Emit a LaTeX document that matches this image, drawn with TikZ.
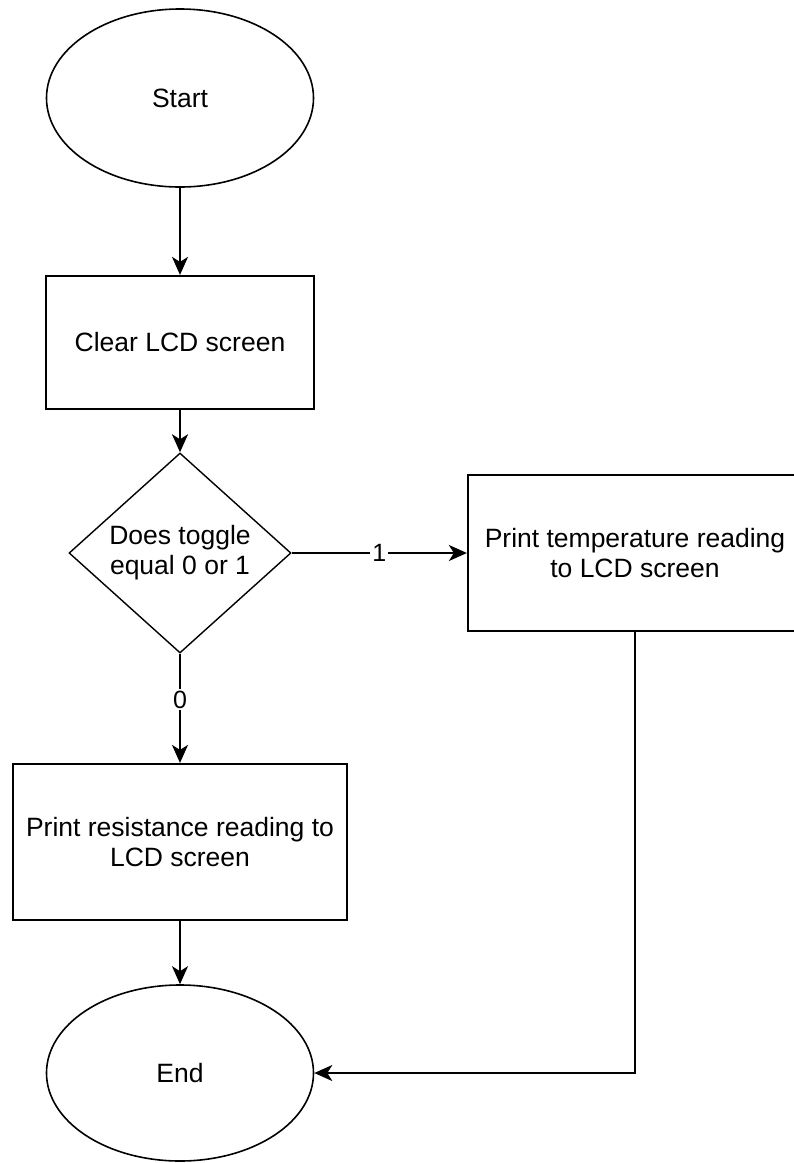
\documentclass[tikz,border=0pt]{standalone}
\usepackage{fontspec}
\setmainfont{Liberation Sans}
\usetikzlibrary{shapes.geometric,arrows.meta}
\begin{document}
\begin{tikzpicture}[x=1pt,y=-1pt,
  every node/.style={font=\fontsize{26.5}{30}\selectfont},
  term/.style={draw, ellipse, line width=1.6pt, minimum width=267pt, minimum height=178pt, inner sep=0pt},
  proc/.style={draw, rectangle, line width=2.2pt, inner sep=0pt, align=center},
  dec/.style={draw, diamond, line width=1.4pt, aspect=1.11, minimum width=222pt, minimum height=200pt, inner sep=0pt, align=center},
  conn/.style={line width=2.2pt, -{Stealth[length=18pt,width=16pt,inset=5pt]}},
  lbl/.style={fill=white, inner sep=2pt, font=\fontsize{25}{29}\selectfont}
]
\useasboundingbox (0,0) rectangle (794,1163);
\clip (0,0) rectangle (794,1163);
\node[term] (start) at (180,98) {Start};
\node[proc, minimum width=268pt, minimum height=133pt] (clear) at (180,342.5) {Clear LCD screen};
\node[dec] (dec) at (180,553) {Does toggle\\equal 0 or 1};
\node[proc, minimum width=334pt, minimum height=156pt] (temp) at (635,553) {Print temperature reading\\to LCD screen};
\node[proc, minimum width=334pt, minimum height=156pt] (res) at (180,842) {Print resistance reading to\\LCD screen};
\node[term, minimum height=176pt] (end) at (180,1073) {End};
\draw[conn] (start) -- (clear);
\draw[conn] (clear) -- (dec);
\draw[conn] (dec) -- node[lbl]{1} (temp);
\draw[conn] (dec) -- node[lbl,pos=0.42]{0} (res);
\draw[conn] (res) -- (end);
\draw[conn] (temp.south) |- (end.east);
\end{tikzpicture}
\end{document}
